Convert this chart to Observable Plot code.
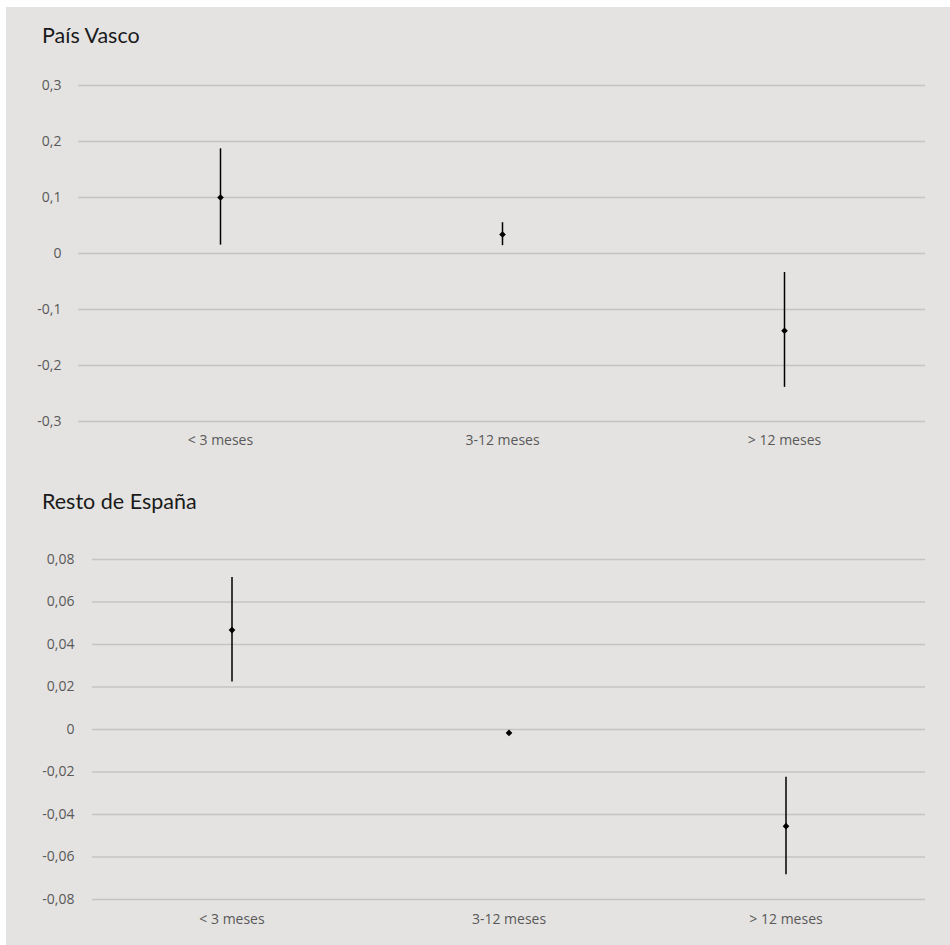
<!DOCTYPE html>
<html>
<head>
<meta charset="utf-8">
<script src="https://cdn.jsdelivr.net/npm/d3@7"></script>
<script src="https://cdn.jsdelivr.net/npm/@observablehq/plot@0.6"></script>
<style>
  html, body { margin: 0; padding: 0; background: #ffffff; width: 950px; height: 945px; overflow: hidden; }
  #bg { position: absolute; left: 6px; top: 7px; width: 944px; height: 938px; background: #e4e3e1; }
  .title { position: absolute; left: 42px; font-family: Lato, "Open Sans", sans-serif; font-size: 21.5px; color: #1a1a1a; line-height: 1; }
  .panel { position: absolute; left: 0; }
</style>
</head>
<body>
<div id="bg"></div>
<div class="title" style="top:25px">País Vasco</div>
<div class="panel" id="p1" style="top:70px"></div>
<div class="title" style="top:491px">Resto de España</div>
<div class="panel" id="p2" style="top:540px"></div>
<script>
const categories = ["< 3 meses", "3-12 meses", "> 12 meses"];

// País Vasco
const pvEst  = [0.100, 0.034, -0.138];
const pvLow  = [0.015, 0.014, -0.239];
const pvHigh = [0.187, 0.055, -0.034];
const pvTicks = [-0.3, -0.2, -0.1, 0, 0.1, 0.2, 0.3];

// Resto de España
const reEst  = [0.0468, -0.0016, -0.0455];
const reLow  = [0.0224, -0.0022, -0.0683];
const reHigh = [0.0715, -0.0010, -0.0225];
const reTicks = [-0.08, -0.06, -0.04, -0.02, 0, 0.02, 0.04, 0.06, 0.08];

function fmt(decimals) {
  return d => Math.abs(d) < 1e-12 ? "0" : d3.format("." + decimals + "f")(d).replace(".", ",").replace("−", "-");
}

function panel(est, low, high, ticks, decimals, opts) {
  const data = categories.map((c, i) => ({cat: c, est: est[i], low: low[i], high: high[i]}));
  return Plot.plot({
    width: 950,
    height: opts.height,
    marginLeft: opts.marginLeft,
    marginRight: 25,
    marginTop: opts.marginTop,
    marginBottom: opts.marginBottom,
    style: {background: "transparent", fontFamily: "'Open Sans', sans-serif", fontSize: "14px", color: "#595959"},
    x: {type: "band", domain: categories, padding: 0, label: null},
    y: {domain: [ticks[0], ticks[ticks.length - 1]], label: null},
    marks: [
      Plot.ruleY(ticks, {stroke: "#c5c4c2", strokeWidth: 1.5}),
      Plot.axisY({ticks: ticks, tickSize: 0, tickPadding: opts.tickPadding, tickFormat: fmt(decimals), label: null, fill: "#595959", fontSize: 14}),
      Plot.axisX({tickSize: 0, tickPadding: opts.xPad, label: null, fill: "#595959", fontSize: 14}),
      Plot.ruleX(data, {x: "cat", y1: "low", y2: "high", stroke: "#000", strokeWidth: 1.5}),
      Plot.dot(data, {x: "cat", y: "est", r: 3, symbol: "diamond2", fill: "#000", stroke: "none"})
    ]
  });
}

document.getElementById("p1").append(panel(pvEst, pvLow, pvHigh, pvTicks, 1,
  {height: 400, marginTop: 15, marginBottom: 49, marginLeft: 78, tickPadding: 17, xPad: 14}));
document.getElementById("p2").append(panel(reEst, reLow, reHigh, reTicks, 2,
  {height: 405, marginTop: 19, marginBottom: 46, marginLeft: 92, tickPadding: 18, xPad: 15}));
</script>
</body>
</html>
